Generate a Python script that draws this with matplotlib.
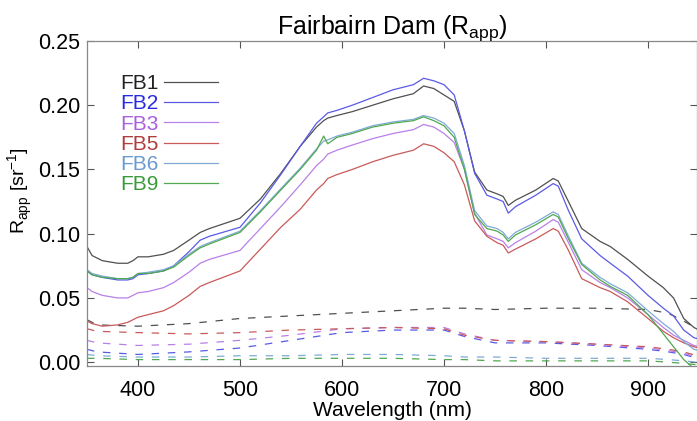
import matplotlib
matplotlib.use("Agg")
import matplotlib.pyplot as plt

plt.rcParams['font.family'] = ['Liberation Sans', 'DejaVu Sans']

# wavelength grid of the solid curves (nm)
wl = [350, 355, 365, 380, 390, 395, 400, 410, 425, 435,
      450, 461, 470, 500, 520, 540, 559, 575, 582, 586,
      595, 610, 630, 650, 670, 680, 690, 700, 710, 720,
      730, 742, 752, 758, 763, 770, 790, 807, 812, 822,
      835, 853, 863, 880, 900, 915, 925, 935, 945, 950]

fb1 = [0.090, 0.083, 0.079, 0.077, 0.077, 0.079, 0.082, 0.082, 0.084, 0.087,
       0.095, 0.101, 0.104, 0.112, 0.127, 0.147, 0.168, 0.183, 0.188, 0.190,
       0.192, 0.195, 0.200, 0.205, 0.209, 0.215, 0.213, 0.208, 0.203, 0.180,
       0.148, 0.134, 0.131, 0.129, 0.122, 0.126, 0.134, 0.143, 0.141, 0.125,
       0.104, 0.094, 0.090, 0.080, 0.067, 0.058, 0.050, 0.034, 0.027, 0.025]
fb2 = [0.071, 0.068, 0.066, 0.064, 0.064, 0.065, 0.068, 0.069, 0.071, 0.075,
       0.086, 0.095, 0.098, 0.105, 0.124, 0.146, 0.168, 0.186, 0.191, 0.194,
       0.196, 0.200, 0.206, 0.212, 0.216, 0.221, 0.219, 0.216, 0.208, 0.180,
       0.147, 0.130, 0.127, 0.125, 0.116, 0.121, 0.130, 0.139, 0.137, 0.118,
       0.096, 0.083, 0.077, 0.067, 0.052, 0.042, 0.036, 0.025, 0.019, 0.018]
fb3 = [0.058, 0.055, 0.052, 0.050, 0.050, 0.052, 0.054, 0.055, 0.058, 0.062,
       0.070, 0.077, 0.080, 0.087, 0.104, 0.121, 0.138, 0.153, 0.158, 0.162,
       0.165, 0.169, 0.174, 0.178, 0.181, 0.185, 0.183, 0.178, 0.171, 0.150,
       0.116, 0.099, 0.096, 0.094, 0.089, 0.093, 0.102, 0.111, 0.109, 0.093,
       0.072, 0.062, 0.058, 0.050, 0.037, 0.027, 0.021, 0.017, 0.013, 0.012]
fb5 = [0.032, 0.030, 0.028, 0.029, 0.031, 0.033, 0.035, 0.037, 0.040, 0.044,
       0.052, 0.059, 0.062, 0.071, 0.088, 0.105, 0.119, 0.134, 0.139, 0.143,
       0.146, 0.150, 0.156, 0.161, 0.165, 0.170, 0.168, 0.163, 0.156, 0.138,
       0.110, 0.098, 0.093, 0.091, 0.085, 0.088, 0.096, 0.104, 0.102, 0.087,
       0.065, 0.058, 0.055, 0.047, 0.034, 0.024, 0.019, 0.015, 0.012, 0.011]
fb6 = [0.072, 0.069, 0.067, 0.065, 0.065, 0.066, 0.069, 0.070, 0.072, 0.075,
       0.084, 0.090, 0.093, 0.102, 0.118, 0.135, 0.151, 0.166, 0.172, 0.173,
       0.176, 0.179, 0.184, 0.187, 0.189, 0.192, 0.190, 0.186, 0.178, 0.153,
       0.118, 0.106, 0.104, 0.101, 0.096, 0.101, 0.109, 0.117, 0.115, 0.098,
       0.077, 0.066, 0.061, 0.054, 0.040, 0.030, 0.024, 0.016, 0.010, 0.009]
fb9 = [0.071, 0.068, 0.066, 0.065, 0.065, 0.066, 0.069, 0.069, 0.071, 0.074,
       0.083, 0.089, 0.092, 0.101, 0.117, 0.134, 0.150, 0.165, 0.176, 0.170,
       0.175, 0.178, 0.183, 0.186, 0.188, 0.191, 0.188, 0.184, 0.175, 0.150,
       0.115, 0.104, 0.102, 0.099, 0.094, 0.099, 0.107, 0.115, 0.113, 0.096,
       0.076, 0.064, 0.059, 0.052, 0.037, 0.022, 0.012, 0.002, -0.005, -0.008]

# dashed curves (lower)
dwl = [350, 360, 400, 450, 500, 550, 600, 650, 700, 720, 750, 800, 850, 900, 920, 935, 948]
fb1_d = [0.033, 0.029, 0.028, 0.030, 0.034, 0.036, 0.038, 0.040, 0.042, 0.042, 0.041, 0.042, 0.042, 0.041, 0.038, 0.032, 0.026]
fb2_d = [0.010, 0.008, 0.006, 0.008, 0.011, 0.017, 0.023, 0.025, 0.025, 0.020, 0.015, 0.015, 0.013, 0.010, 0.008, 0.006, 0.003]
fb3_d = [0.017, 0.015, 0.013, 0.014, 0.017, 0.021, 0.026, 0.027, 0.027, 0.022, 0.017, 0.016, 0.014, 0.011, 0.009, 0.007, 0.004]
fb5_d = [0.026, 0.024, 0.023, 0.022, 0.023, 0.025, 0.026, 0.027, 0.026, 0.021, 0.017, 0.016, 0.014, 0.012, 0.010, 0.008, 0.005]
fb6_d = [0.006, 0.005, 0.004, 0.004, 0.005, 0.005, 0.006, 0.006, 0.005, 0.004, 0.004, 0.003, 0.003, 0.003, 0.002, 0.001, 0.000]
fb9_d = [0.003, 0.003, 0.002, 0.002, 0.002, 0.003, 0.003, 0.003, 0.002, 0.002, 0.001, 0.001, 0.001, 0.001, 0.000, -0.001, -0.002]

names = ["FB1", "FB2", "FB3", "FB5", "FB6", "FB9"]
solid = [fb1, fb2, fb3, fb5, fb6, fb9]
dashed = [fb1_d, fb2_d, fb3_d, fb5_d, fb6_d, fb9_d]
line_colors = ["#505050", "#5a5ae6", "#b880e8", "#c85a5a", "#80aad6", "#50a850"]
text_colors = ["#222222", "#2a2ae0", "#a860e0", "#b03c3c", "#6a9ad0", "#3a9a3a"]

fig = plt.figure(figsize=(6.97, 4.21), dpi=100)
ax = fig.add_axes([0.1248, 0.1306, 0.8752, 0.772])

handles = []
for i in range(len(names)):
    h, = ax.plot(wl, solid[i], color=line_colors[i], lw=0.9, label=names[i])
    handles.append(h)
    ax.plot(dwl, dashed[i], color=line_colors[i], lw=0.9, linestyle=(0, (6, 7)))

ax.set_xlim(350, 948)
ax.set_ylim(-0.003, 0.25)
ax.set_xticks([400, 500, 600, 700, 800, 900])
ax.set_yticks([0.00, 0.05, 0.10, 0.15, 0.20, 0.25])
ax.set_yticklabels(["0.00", "0.05", "0.10", "0.15", "0.20", "0.25"])
ax.tick_params(direction="in", top=True, right=True, length=5, width=0.8,
               color="#555555", labelsize=15.5)
ax.tick_params(axis="x", pad=10)
ax.tick_params(axis="y", pad=5)
for s in ax.spines.values():
    s.set_color("#888888")
    s.set_linewidth(0.9)

ax.set_title("Fairbairn Dam (R$_{\\mathregular{app}}$)", fontsize=18, pad=5)
ax.set_xlabel("Wavelength (nm)", fontsize=15, labelpad=0)
ax.set_ylabel("R$_{\\mathregular{app}}$ [sr$^{\\mathregular{-1}}$]", fontsize=14)
ax.yaxis.set_label_coords(-0.085, 0.54)

leg = ax.legend(handles=handles, loc="upper left", bbox_to_anchor=(0.038, 0.93),
                frameon=False, markerfirst=False, fontsize=15, handlelength=2.6,
                handletextpad=0.25, labelspacing=0.06, borderpad=0)
for t, c in zip(leg.get_texts(), text_colors):
    t.set_color(c)

fig.savefig("out.png", dpi=100)
